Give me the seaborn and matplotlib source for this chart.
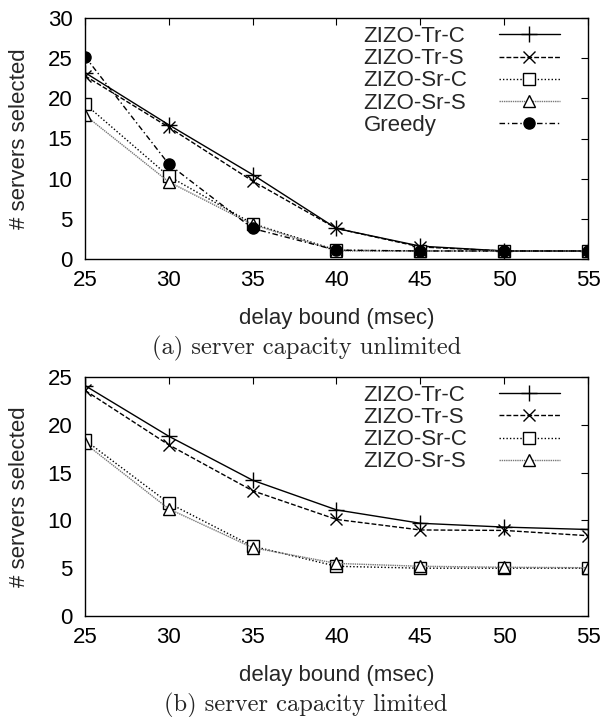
import matplotlib
matplotlib.use("Agg")
import matplotlib.pyplot as plt
import seaborn as sns
import pandas as pd

delay = [25, 30, 35, 40, 45, 50, 55]

# (a) server capacity unlimited
a_tr_c = [23.2, 16.7, 10.5, 3.8, 1.6, 1.0, 1.0]
a_tr_s = [22.8, 16.4, 9.7, 3.8, 1.5, 1.0, 1.0]
a_sr_c = [19.3, 10.3, 4.4, 1.1, 1.0, 1.0, 1.0]
a_sr_s = [17.9, 9.6, 4.3, 1.0, 1.0, 1.0, 1.0]
a_greedy = [25.2, 11.8, 3.8, 1.1, 1.0, 1.0, 1.0]

# (b) server capacity limited
b_tr_c = [24.1, 18.8, 14.2, 11.1, 9.7, 9.3, 9.05]
b_tr_s = [23.6, 17.9, 13.1, 10.1, 9.0, 8.95, 8.4]
b_sr_c = [18.4, 11.8, 7.3, 5.2, 5.0, 5.0, 5.0]
b_sr_s = [18.05, 11.2, 7.15, 5.5, 5.2, 5.1, 5.05]

labels = ["ZIZO-Tr-C", "ZIZO-Tr-S", "ZIZO-Sr-C", "ZIZO-Sr-S", "Greedy"]
xticks = [25, 30, 35, 40, 45, 50, 55]

sns.set_style("white")
plt.rcParams['font.family'] = ['Liberation Sans', 'DejaVu Sans']

styles = {
    "ZIZO-Tr-C": dict(color="black", marker="+", markersize=11, linestyle="-"),
    "ZIZO-Tr-S": dict(color="black", marker="x", markersize=8, linestyle=(0, (3.5, 1.5))),
    "ZIZO-Sr-C": dict(color="black", marker="s", markersize=8, mfc="white", linestyle=(0, (1, 1.5))),
    "ZIZO-Sr-S": dict(color="#777777", marker="^", markersize=8, mfc="white", linestyle=(0, (1, 0.6))),
    "Greedy": dict(color="black", marker="o", markersize=8, mfc="black", linestyle=(0, (4, 2, 1, 2))),
}

fig = plt.figure(figsize=(6.0, 7.17), dpi=100)
W, H = 600, 717
def axrect(x0, x1, ytop, ybot):
    return [x0 / W, 1 - ybot / H, (x1 - x0) / W, (ybot - ytop) / H]

ax1 = fig.add_axes(axrect(85, 588, 18, 259))
ax2 = fig.add_axes(axrect(85, 588, 377, 616))

TEXTPAD = 1.4
FS = 16
legends = []

def draw(ax, series, ymax, yticks):
    for lab, vals in series:
        df = pd.DataFrame({"delay": delay, "n": vals})
        sns.lineplot(data=df, x="delay", y="n", ax=ax, label=lab, lw=1.0,
                     mec="black", mew=1.0, **styles[lab])
    ax.set_xlim(25, 55)
    ax.set_ylim(0, ymax)
    ax.set_xticks(xticks)
    ax.set_yticks(yticks)
    ax.tick_params(direction="in", length=5, width=0.8, top=True, right=True,
                   labelsize=FS, colors="black", pad=9)
    ax.tick_params(axis="x", pad=8)
    for s in ax.spines.values():
        s.set_color("black")
        s.set_linewidth(1.0)
    ax.set_xlabel("delay bound (msec)", fontsize=FS)
    ax.set_ylabel("# servers selected", fontsize=FS)
    ax.xaxis.set_label_coords(0.5, -0.204)
    ax.yaxis.set_label_coords(-0.109, 0.5)
    leg = ax.legend(loc="upper right", bbox_to_anchor=(0.944, 0.966), frameon=False,
                    markerfirst=False, handlelength=2.75, handletextpad=TEXTPAD,
                    fontsize=FS, labelspacing=0.05, borderpad=0, borderaxespad=0)
    legends.append(leg)

draw(ax1, [("ZIZO-Tr-C", a_tr_c), ("ZIZO-Tr-S", a_tr_s), ("ZIZO-Sr-C", a_sr_c),
           ("ZIZO-Sr-S", a_sr_s), ("Greedy", a_greedy)], 30, [0, 5, 10, 15, 20, 25, 30])
draw(ax2, [("ZIZO-Tr-C", b_tr_c), ("ZIZO-Tr-S", b_tr_s), ("ZIZO-Sr-C", b_sr_c),
           ("ZIZO-Sr-S", b_sr_s)], 25, [0, 5, 10, 15, 20, 25])

fig.text(307 / W, 1 - 348 / H, "(a) server capacity unlimited", ha="center", va="center",
         fontsize=17.6, family=["cmr10", "DejaVu Serif"])
fig.text(306 / W, 1 - 705 / H, "(b) server capacity limited", ha="center", va="center",
         fontsize=17.6, family=["cmr10", "DejaVu Serif"])

# left-align legend labels (gnuplot style: text left, sample right)
fig.canvas.draw()
r = fig.canvas.get_renderer()
ptpx = r.points_to_pixels(1.0)
for leg in legends:
    for col in leg._legend_handle_box.get_children():
        rows = col.get_children()
        widths = [row.get_children()[0].get_window_extent(r).width for row in rows]
        maxw = max(widths)
        for row, w in zip(rows, widths):
            row.sep = TEXTPAD * FS + (maxw - w) / ptpx

fig.savefig("out.png", dpi=100)
